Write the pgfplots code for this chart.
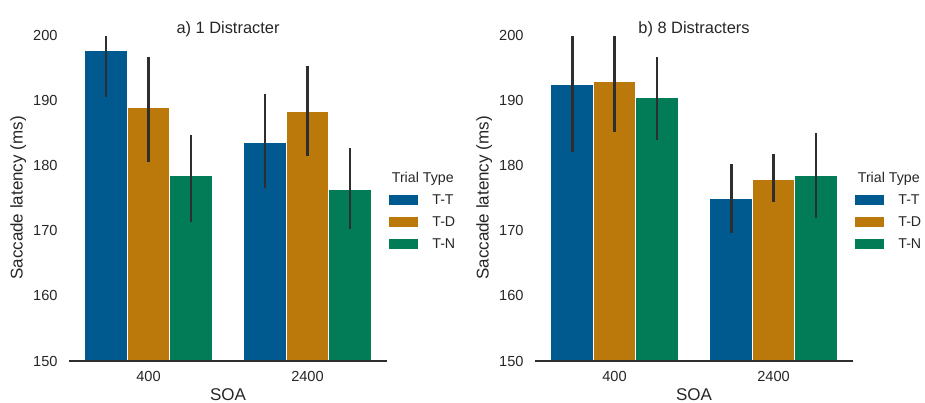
\documentclass[border=0pt]{standalone}
\usepackage{fontspec}
\setmainfont{Liberation Sans}
\usepackage{pgfplots}
\pgfplotsset{compat=1.18}
\definecolor{cTT}{RGB}{1,90,143}
\definecolor{cTD}{RGB}{186,121,10}
\definecolor{cTN}{RGB}{1,124,86}
\definecolor{errc}{HTML}{2E2E2E}
\definecolor{txt}{HTML}{262626}

\pgfplotsset{
  sbar/.style={
    scale only axis, width=159pt, height=163pt,
    anchor=south west, clip mode=individual, axis on top,
    xmin=-0.5, xmax=1.5, ymin=150, ymax=200,
    xtick={0,1}, xticklabels={400,2400},
    ytick={150,160,...,200},
    axis x line*=bottom, axis y line*=left,
    x axis line style={draw=errc, line width=0.6pt, -},
    y axis line style={draw=none},
    xtick style={draw=none}, ytick style={draw=none},
    /pgf/number format/assume math mode=true,
    ticklabel style={font=\fontsize{7.3}{8}\selectfont, text=txt},
    yticklabel style={anchor=east, inner sep=0pt, xshift=-5.5pt},
    xticklabel style={anchor=north, inner sep=0pt, yshift=-5pt},
    xlabel={SOA}, ylabel={Saccade latency (ms)},
    label style={font=\fontsize{8.5}{10}\selectfont, text=txt},
    xlabel style={at={(axis description cs:0.5,0)}, anchor=center, yshift=-17pt},
    ylabel style={at={(axis description cs:-0.16,0.5)}, anchor=center, rotate=0},
    title style={font=\fontsize{8.2}{10}\selectfont, text=txt,
      at={(axis description cs:0.5,1)}, anchor=center, yshift=-3.2pt},
    legend style={draw=none, fill=none, at={(rel axis cs:1.003,0.516)}, anchor=north west,
      inner sep=0pt, font=\fontsize{7.1}{8}\selectfont, text=txt,
      nodes={inner ysep=0pt, inner xsep=0pt, text height=5.5pt, text depth=1.5pt},
      row sep=4pt,
      /tikz/every odd column/.append style={column sep=6.5pt}},
    legend cell align=left,
    legend image code/.code={\fill[##1] (0pt,-2.7pt) rectangle (15pt,2.7pt);},
    error bars/y dir=both, error bars/y explicit,
    error bars/error mark=none,
    error bars/error bar style={draw=errc, line width=1.4pt},
  },
  bars/.style={ybar, bar width=0.2667, bar shift=0pt, draw=white, line width=0.5pt, fill=#1},
}

\begin{document}
\begin{tikzpicture}
% panel a
\begin{axis}[sbar, at={(34.5pt,20.5pt)}, title={a) 1 Distracter}]
\addplot[bars=cTT] coordinates {
  (-0.2667,197.7) += (0,2.2) -= (0,7.2)
  (0.7333,183.5) += (0,7.4) -= (0,7.0)
};
\addplot[bars=cTD] coordinates {
  (0,188.9) += (0,7.7) -= (0,8.4)
  (1,188.3) += (0,6.9) -= (0,6.9)
};
\addplot[bars=cTN] coordinates {
  (0.2667,178.4) += (0,6.3) -= (0,7.1)
  (1.2667,176.3) += (0,6.4) -= (0,6.1)
};
\legend{T-T,T-D,T-N}
\node[anchor=west, inner sep=0pt, font=\fontsize{7.1}{8}\selectfont, text=txt]
  at (rel axis cs:1.014,0.558) {Trial Type};
\end{axis}
% panel b
\begin{axis}[sbar, at={(267.5pt,20.5pt)}, title={b) 8 Distracters}]
\addplot[bars=cTT] coordinates {
  (-0.2667,192.4) += (0,7.5) -= (0,10.3)
  (0.7333,175.0) += (0,5.2) -= (0,5.4)
};
\addplot[bars=cTD] coordinates {
  (0,192.9) += (0,7.0) -= (0,7.7)
  (1,177.9) += (0,3.8) -= (0,3.5)
};
\addplot[bars=cTN] coordinates {
  (0.2667,190.4) += (0,6.2) -= (0,6.5)
  (1.2667,178.4) += (0,6.6) -= (0,6.4)
};
\legend{T-T,T-D,T-N}
\node[anchor=west, inner sep=0pt, font=\fontsize{7.1}{8}\selectfont, text=txt]
  at (rel axis cs:1.014,0.558) {Trial Type};
\end{axis}
\pgfresetboundingbox
\path[use as bounding box] (0,0) rectangle (462.5pt,201pt);
\end{tikzpicture}
\end{document}
